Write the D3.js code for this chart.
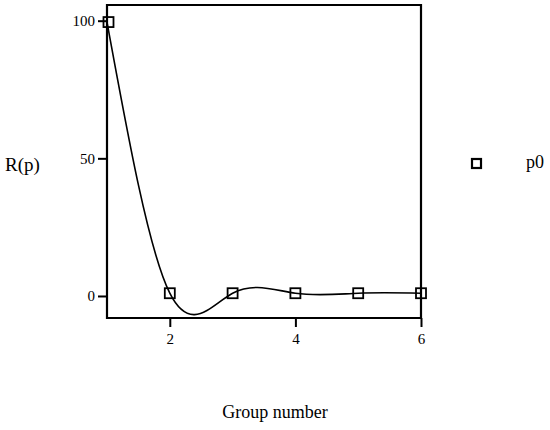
<!DOCTYPE html>
<html>
<head>
<meta charset="utf-8">
<script src="https://cdn.jsdelivr.net/npm/d3@7"></script>
<style>
  html, body { margin: 0; padding: 0; background: #fff; }
  text { font-family: "Liberation Serif", "DejaVu Serif", serif; fill: #000; }
</style>
</head>
<body>
<svg id="chart" width="550" height="430"></svg>
<script>
const groups = [1, 2, 3, 4, 5, 6];
const p0 = [99.5, 1, 1, 1, 1, 1];
const xTicks = [2, 4, 6];
const yTicks = [0, 50, 100];
const seriesName = "p0";
const xTitle = "Group number";
const yTitle = "R(p)";

const svg = d3.select("#chart");
const x = d3.scaleLinear().domain([1, 6]).range([107, 421]);
const y = d3.scaleLinear().domain([-8, 105.7]).range([318, 5]);

// frame: top and right edges
svg.append("path")
  .attr("d", `M${x(1)},${y(105.7)}H${x(6)}V${y(-8)}`)
  .attr("fill", "none").attr("stroke", "#000").attr("stroke-width", 2.2);

const xAxis = svg.append("g").attr("transform", `translate(0,${y(-8)})`)
  .call(d3.axisBottom(x).tickValues(xTicks).tickFormat(d3.format("d")).tickSize(9).tickPadding(6).tickSizeOuter(0));
const yAxis = svg.append("g").attr("transform", `translate(${x(1)},0)`)
  .call(d3.axisLeft(y).tickValues(yTicks).tickFormat(d3.format("d")).tickSize(9).tickPadding(3).tickSizeOuter(0));

[xAxis, yAxis].forEach(g => {
  g.select(".domain").attr("stroke", "#000").attr("stroke-width", 2.2);
  g.selectAll(".tick line").attr("stroke", "#000").attr("stroke-width", 2);
  g.selectAll(".tick text").style("font-family", '"Liberation Serif", serif')
    .style("font-size", "15px").attr("fill", "#000");
});
// extend domains to corners
xAxis.select(".domain").attr("d", `M${x(1) - 1},0H${x(6) + 1}`);
yAxis.select(".domain").attr("d", `M0,${y(105.7) - 1}V${y(-8) + 1}`);

const data = groups.map((g, i) => ({ g, v: p0[i] }));
svg.append("path")
  .datum(data)
  .attr("fill", "none").attr("stroke", "#000").attr("stroke-width", 1.6)
  .attr("d", d3.line().x(d => x(d.g)).y(d => y(d.v)).curve(d3.curveNatural));

const s = 10;
svg.selectAll("rect.pt").data(data).enter().append("rect")
  .attr("class", "pt")
  .attr("x", d => x(d.g) - s / 2 + (d.g === 1 ? 1.5 : 0))
  .attr("y", d => y(d.v) - s / 2)
  .attr("width", s).attr("height", s)
  .attr("fill", "none").attr("stroke", "#000").attr("stroke-width", 1.8);

// legend
svg.append("rect").attr("x", 472).attr("y", 159).attr("width", 9).attr("height", 9)
  .attr("fill", "none").attr("stroke", "#000").attr("stroke-width", 2.2);
svg.append("text").attr("x", 526).attr("y", 168).style("font-size", "18px").text(seriesName);

svg.append("text").attr("x", 275).attr("y", 418).attr("text-anchor", "middle")
  .style("font-size", "18px").text(xTitle);
svg.append("text").attr("x", 5).attr("y", 171)
  .style("font-size", "19px").text(yTitle);
</script>
</body>
</html>
